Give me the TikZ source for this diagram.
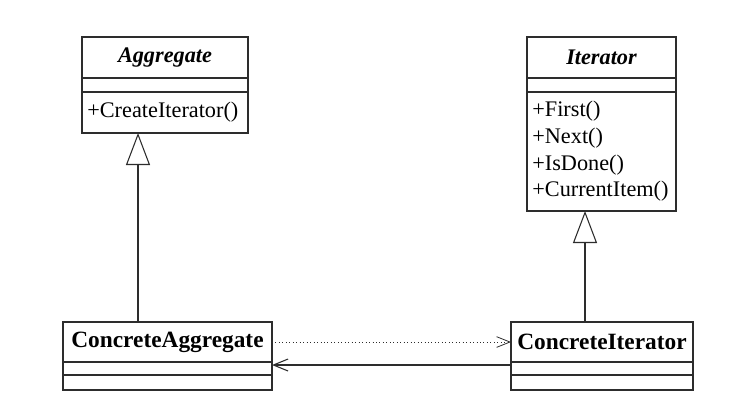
\documentclass[tikz,border=0pt]{standalone}
\usepackage{fontspec}
\setmainfont{Liberation Serif}
\usepackage{tikz}
\usetikzlibrary{positioning,arrows.meta}
\definecolor{linegray}{RGB}{45,45,45}

\begin{document}
\begin{tikzpicture}[
    x=0.75pt, y=-0.75pt,
    node distance=0pt,
    box/.style={rectangle, draw=linegray, line width=0.8pt, inner sep=0pt, outer sep=0pt},
    classname/.style={box, minimum height=30.75pt, font=\fontsize{17.5}{20}\selectfont\bfseries},
    abstract/.style={classname, font=\fontsize{16.7}{20}\selectfont\bfseries\itshape},
    attrs/.style={box, minimum height=10.5pt},
    ops/.style={box, align=left, inner xsep=4pt, font=\fontsize{16.7}{20}\selectfont},
    inherit/.style={draw=linegray, line width=0.8pt, -{Triangle[open, length=24pt, width=18pt]}},
    depend/.style={draw=linegray, line width=0.6pt, dotted, -{Straight Barb[length=10pt, width=8pt]}},
    assoc/.style={draw=linegray, line width=0.8pt, -{Straight Barb[length=11pt, width=9pt]}}
]
\useasboundingbox[fill=white] (0,0) rectangle (755,412);

% Abstract classes
\node[abstract, minimum width=124.5pt] (agg) at (165,57.5) {Aggregate};
\node[attrs, minimum width=124.5pt, below=of agg] (aggattr) {};
\node[ops, text width=116.5pt, minimum height=30.75pt, below=of aggattr] (aggops) {+CreateIterator()};

\node[abstract, minimum width=111.75pt] (iter) at (601.5,57.5) {Iterator};
\node[attrs, minimum width=111.75pt, below=of iter] (iterattr) {};
\node[ops, text width=103.75pt, minimum height=89.25pt, below=of iterattr] (iterops) {+First()\\+Next()\\+IsDone()\\+CurrentItem()};

% Concrete classes
\node[classname, minimum width=156.75pt, minimum height=30pt] (cagg) at (167.5,342) {ConcreteAggregate};
\node[attrs, minimum width=156.75pt, minimum height=9.75pt, below=of cagg] (caggattr) {};
\node[attrs, minimum width=156.75pt, minimum height=11.25pt, below=of caggattr] (caggops) {};

\node[classname, minimum width=136.5pt, minimum height=30pt] (citer) at (602,342) {ConcreteIterator};
\node[attrs, minimum width=136.5pt, minimum height=9.75pt, below=of citer] (citerattr) {};
\node[attrs, minimum width=136.5pt, minimum height=11.25pt, below=of citerattr] (citerops) {};

% Generalization
\coordinate (aggbase) at ([xshift=42pt]aggops.south west);
\coordinate (iterbase) at ([xshift=43.5pt]iterops.south west);
\draw[inherit] (cagg.north -| aggbase) -- (aggbase);
\draw[inherit] (citer.north -| iterbase) -- (iterbase);

% Dependency and association
\draw[depend] (cagg.east) -- (citer.west);
\draw[assoc] ([yshift=-2.25pt]citer.south west) -- ([yshift=-2.25pt]cagg.south east);

\end{tikzpicture}
\end{document}
